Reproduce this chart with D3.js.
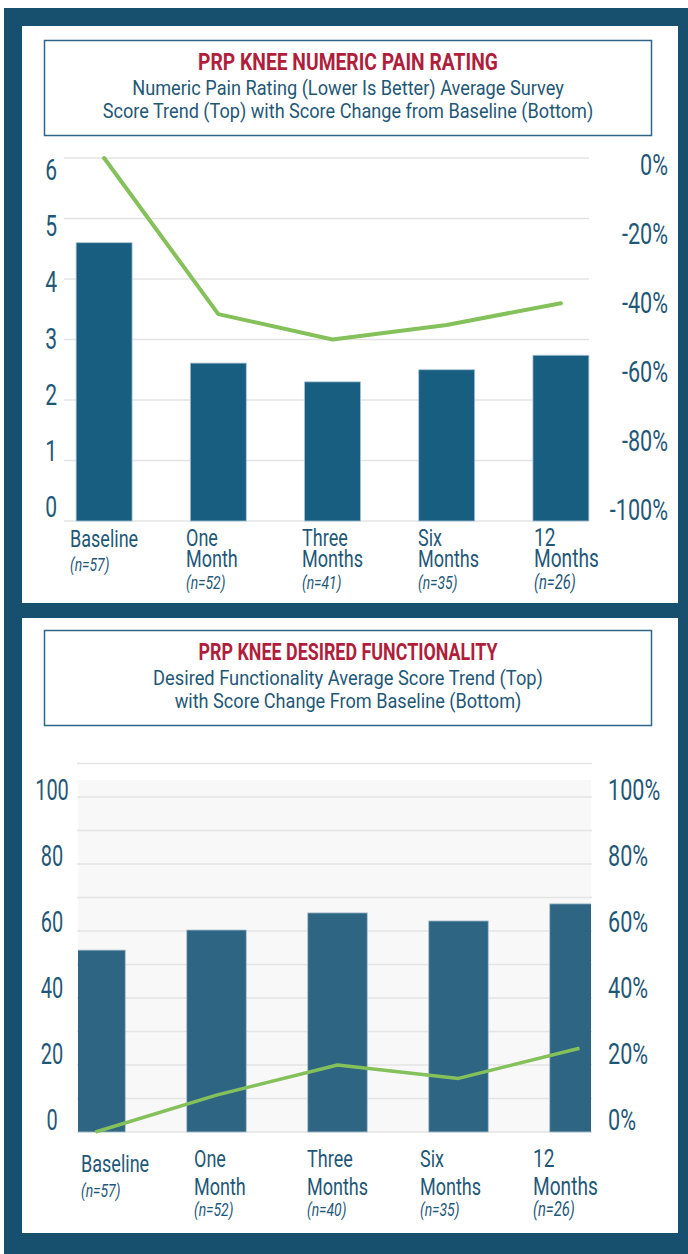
<!DOCTYPE html>
<html><head><meta charset="utf-8">
<script src="https://cdn.jsdelivr.net/npm/d3@7"></script>
<style>html,body{margin:0;padding:0;background:#fff;} svg{display:block;font-family:Roboto,"Noto Sans",sans-serif;}</style>
</head><body><svg id="c" width="688" height="1254"></svg>
<script>
// ---------- DATA ----------
const categories = ["Baseline", "One Month", "Three Months", "Six Months", "12 Months"];
const categoryLines = [["Baseline"], ["One", "Month"], ["Three", "Months"], ["Six", "Months"], ["12", "Months"]];

const painN = ["(n=57)", "(n=52)", "(n=41)", "(n=35)", "(n=26)"];
const painScores = [4.6, 2.61, 2.30, 2.50, 2.74];
const painChange = [0, -0.43, -0.50, -0.46, -0.40];
const painTicks = [0, 1, 2, 3, 4, 5, 6];
const painPctTicks = [0, -0.2, -0.4, -0.6, -0.8, -1.0];

const funcN = ["(n=57)", "(n=52)", "(n=40)", "(n=35)", "(n=26)"];
const funcScores = [54.3, 60.3, 65.4, 63.0, 68.1];
const funcChange = [0, 0.11, 0.20, 0.16, 0.25];
const funcGrid = [0, 10, 20, 30, 40, 50, 60, 70, 80, 90, 100, 110];
const funcTicks = [0, 20, 40, 60, 80, 100];
const funcPctTicks = [0, 0.2, 0.4, 0.6, 0.8, 1.0];

const painTitle = "PRP KNEE NUMERIC PAIN RATING";
const painSub = ["Numeric Pain Rating (Lower Is Better) Average Survey", "Score Trend (Top) with Score Change from Baseline (Bottom)"];
const funcTitle = "PRP KNEE DESIRED FUNCTIONALITY";
const funcSub = ["Desired Functionality Average Score Trend (Top)", "with Score Change From Baseline (Bottom)"];

// ---------- STYLE ----------
const NAVY = "#17506e", TEXT = "#1f5877", RED = "#b01e3c", GREEN = "#84c15a";
const svg = d3.select("#c");

function txt(g, x, y, s, o = {}) {
  const t = g.append("text").attr("x", 0).attr("y", 0)
    .attr("font-size", o.size || 20).attr("fill", o.fill || TEXT)
    .attr("font-weight", o.weight || 400).attr("font-style", o.style || "normal")
    .attr("text-anchor", o.anchor || "start").text(s);
  let sx = o.sx || 0.78;
  const sy = o.sy || 1;
  if (o.fit) { const w = t.node().getComputedTextLength(); sx = o.fit / w; }
  t.attr("transform", `translate(${x},${y}) scale(${sx},${sy})`);
  return t;
}

// frame
svg.append("rect").attr("x", 4).attr("y", 8).attr("width", 684).attr("height", 1246).attr("fill", NAVY);
svg.append("rect").attr("x", 22).attr("y", 26).attr("width", 656).attr("height", 577).attr("fill", "#fff");
svg.append("rect").attr("x", 22).attr("y", 618).attr("width", 656).attr("height", 615).attr("fill", "#fff");

function titleBox(y0, title, subs, fits) {
  const g = svg.append("g");
  g.append("rect").attr("x", 44.5).attr("y", y0 + 0.5).attr("width", 607).attr("height", 95)
    .attr("fill", "none").attr("stroke", "#2d6686").attr("stroke-width", 1.5);
  txt(g, 348, y0 + 30, title, { size: 24, weight: 700, fill: RED, anchor: "middle", fit: fits[0] });
  txt(g, 348, y0 + 55, subs[0], { size: 20, anchor: "middle", fit: fits[1] });
  txt(g, 348, y0 + 78, subs[1], { size: 20, anchor: "middle", fit: fits[2] });
}
titleBox(40, painTitle, painSub, [300, 432, 491]);
titleBox(630, funcTitle, funcSub, [299, 390, 347]);

// category label block
function catLabels(g, xLab, nArr, ys) {
  categories.forEach((c, i) => {
    const lines = categoryLines[i];
    const big = i === 4 ? 1.06 : 1;
    if (lines.length === 1) {
      txt(g, xLab(c), ys.single, lines[0], { size: 22, sx: 0.82, sy: 1.12 });
      txt(g, xLab(c), ys.singleN, nArr[i], { size: 17, style: "italic", sx: 0.82, sy: 1.08 });
    } else {
      txt(g, xLab(c), ys.l1, lines[0], { size: 22 * big, sx: 0.82, sy: 1.12 });
      txt(g, xLab(c), ys.l2, lines[1], { size: 22 * big, sx: 0.82, sy: 1.12 });
      txt(g, xLab(c), ys.n, nArr[i], { size: 17 * big, style: "italic", sx: 0.82, sy: 1.08 });
    }
  });
}

// ---------- TOP CHART ----------
{
  const g = svg.append("g");
  const y = d3.scaleLinear().domain([0, 6]).range([521, 158]);
  const yPct = d3.scaleLinear().domain([-1, 0]).range([521, 158]);
  const yLab = d3.scaleLinear().domain([0, 6]).range([517, 180]);
  const yPctLab = d3.scaleLinear().domain([-1, 0]).range([520, 175]);
  const x = d3.scaleBand().domain(categories).range([47, 618]).paddingInner(0.51).paddingOuter(0.255);
  const xLab = d3.scalePoint().domain(categories).range([70, 534]);

  g.selectAll("line.grid").data(painTicks).join("line").attr("class", "grid")
    .attr("x1", 64).attr("x2", 589).attr("y1", d => y(d)).attr("y2", d => y(d))
    .attr("stroke", "#e3e3e3").attr("stroke-width", 1.5);

  g.selectAll("rect.bar").data(painScores).join("rect").attr("class", "bar")
    .attr("x", (d, i) => x(categories[i])).attr("width", x.bandwidth())
    .attr("y", d => y(d)).attr("height", d => y(0) - y(d))
    .attr("fill", "#185e80").attr("stroke", "#a9c3d1").attr("stroke-width", 0.8);

  const line = d3.line().x((d, i) => x(categories[i]) + x.bandwidth() / 2).y(d => yPct(d));
  g.append("path").datum(painChange).attr("d", line).attr("fill", "none")
    .attr("stroke", GREEN).attr("stroke-width", 4).attr("stroke-linejoin", "round").attr("stroke-linecap", "round");

  painTicks.forEach(t => txt(g, 57, yLab(t), String(t), { size: 27, anchor: "end", sx: 0.78, sy: 1.1 }));
  painPctTicks.forEach(t => txt(g, 668, yPctLab(t), d3.format(".0%")(t).replace("−", "-"), { size: 27, anchor: "end", sx: 0.8, sy: 1.1 }));

  catLabels(g, xLab, painN, { single: 547, singleN: 571, l1: 546, l2: 567, n: 589 });
}

// ---------- BOTTOM CHART ----------
{
  const g = svg.append("g");
  const y = d3.scaleLinear().domain([0, 110]).range([1132, 763.5]);
  const yPct = d3.scaleLinear().domain([0, 1.1]).range([1132, 763.5]);
  const yLab = d3.scaleLinear().domain([0, 100]).range([1130, 800]);
  const x = d3.scaleBand().domain(categories).range([35, 640]).paddingInner(0.508).paddingOuter(0.254);
  const xLab = d3.scalePoint().domain(categories).range([81, 533]);

  g.append("rect").attr("x", 78).attr("y", 780).attr("width", 513).attr("height", y(0) - 780).attr("fill", "#f8f8f8");
  g.selectAll("line.grid").data(funcGrid).join("line").attr("class", "grid")
    .attr("x1", 77).attr("x2", 592).attr("y1", d => y(d)).attr("y2", d => y(d))
    .attr("stroke", "#e4e4e4").attr("stroke-width", 1.5);

  g.append("clipPath").attr("id", "plotclip").append("rect").attr("x", 78).attr("y", 700).attr("width", 513).attr("height", 440);
  const pg = g.append("g").attr("clip-path", "url(#plotclip)");
  pg.selectAll("rect.bar").data(funcScores).join("rect").attr("class", "bar")
    .attr("x", (d, i) => x(categories[i])).attr("width", x.bandwidth())
    .attr("y", d => y(d)).attr("height", d => y(0) - y(d))
    .attr("fill", "#2e6583").attr("stroke", "#a9c3d1").attr("stroke-width", 0.8);

  const line = d3.line().x((d, i) => x(categories[i]) + x.bandwidth() / 2).y(d => yPct(d));
  pg.append("path").datum(funcChange).attr("d", line).attr("fill", "none")
    .attr("stroke", GREEN).attr("stroke-width", 3.5).attr("stroke-linejoin", "round");

  funcTicks.forEach(t => txt(g, 52, yLab(t), String(t), { size: 27, anchor: "middle", sx: 0.74, sy: 1.1 }));
  funcPctTicks.forEach(t => txt(g, 608, yLab(t * 100), d3.format(".0%")(t), { size: 27, anchor: "start", sx: 0.8, sy: 1.1 }));

  catLabels(g, xLab, funcN, { single: 1172, singleN: 1197, l1: 1167, l2: 1195, n: 1216 });
}
</script></body></html>
